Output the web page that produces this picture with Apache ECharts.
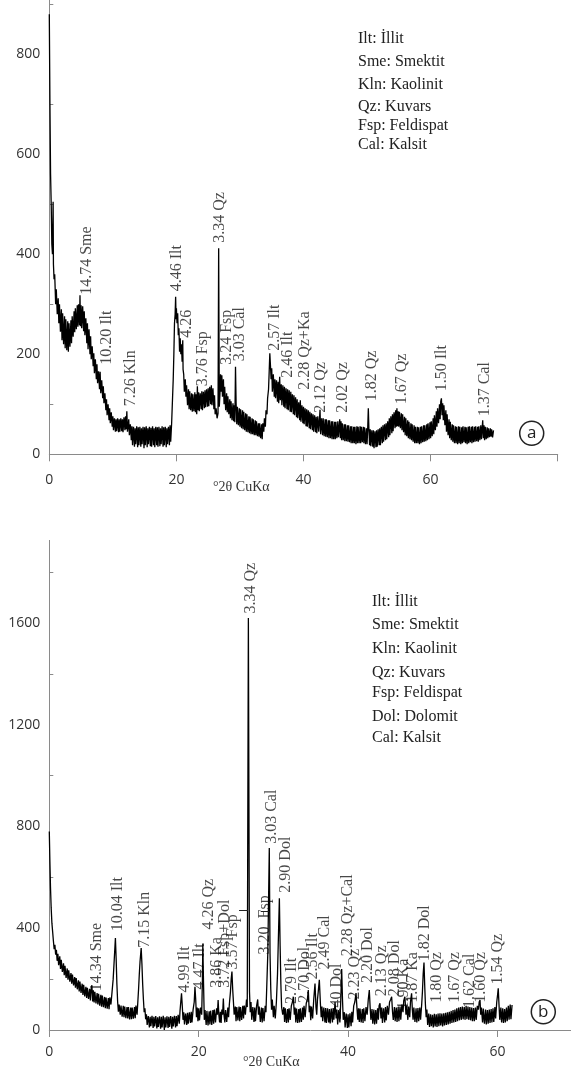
<!DOCTYPE html>
<html>
<head>
<meta charset="utf-8">
<title>XRD patterns</title>
<script src="https://cdn.jsdelivr.net/npm/echarts@6/dist/echarts.min.js"></script>
<style>
html, body { margin: 0; padding: 0; background: #fff; }
#main { width: 571px; height: 1072px; }
</style>
</head>
<body>
<div id="main"></div>
<script>
// pattern (a): [2theta, counts]
const patternA = [
[0,880],[0.1,700],[0.2,560],[0.3,500],[0.4,420],[0.5,400],[0.6,505],[0.65,380],[0.75,350],[0.85,360],[1,300],[1.1,330],[1.25,280],[1.4,312],[1.5,262],[1.6,300],[1.75,245],[1.9,290],
[2,228],[2.1,282],[2.25,220],[2.4,276],[2.5,212],[2.6,270],[2.75,208],[2.9,266],[3,205],[3.1,262],[3.25,215],[3.4,268],[3.5,222],[3.6,276],[3.75,235],[3.9,286],
[4,244],[4.1,292],[4.25,250],[4.4,298],[4.5,255],[4.6,300],[4.75,258],[4.83,318],[4.9,256],[5,298],[5.1,252],[5.25,296],[5.4,246],[5.5,286],[5.6,238],[5.75,272],[5.9,222],
[6,262],[6.1,210],[6.25,250],[6.4,200],[6.5,236],[6.6,190],[6.75,216],[6.9,176],[7,202],[7.1,162],[7.25,190],[7.4,150],[7.5,180],[7.6,142],[7.75,166],[7.9,130],
[8,165],[8.1,122],[8.25,148],[8.4,112],[8.5,136],[8.6,102],[8.75,122],[8.9,88],[9,110],[9.1,78],[9.25,100],[9.4,68],[9.5,92],[9.6,62],[9.75,84],[9.9,55],
[10,76],[10.1,48],[10.25,72],[10.4,45],[10.5,70],[10.6,46],[10.75,72],[10.9,44],[11,70],[11.1,45],[11.25,72],[11.4,46],[11.5,70],[11.6,44],[11.75,74],[11.9,48],
[12,76],[12.1,50],[12.2,86],[12.3,45],[12.5,70],[12.6,38],[12.75,60],[12.9,28],[13,56],[13.1,18],[13.25,55],[13.4,15],[13.5,52],[13.6,20],[13.75,56],[13.9,14],
[14,54],[14.1,18],[14.25,55],[14.4,15],[14.5,52],[14.6,20],[14.75,55],[14.9,12],[15,54],[15.1,18],[15.25,56],[15.4,14],[15.5,52],[15.6,20],[15.75,55],[15.9,16],
[16,53],[16.1,15],[16.25,56],[16.4,18],[16.5,52],[16.6,14],[16.75,55],[16.9,18],[17,54],[17.1,15],[17.25,55],[17.4,16],[17.5,52],[17.6,20],[17.75,56],[17.9,15],
[18,54],[18.1,18],[18.25,55],[18.4,14],[18.5,52],[18.6,20],[18.75,55],[18.9,18],[19,58],[19.1,25],[19.25,62],[19.4,60],[19.5,150],[19.6,200],[19.7,262],[19.8,280],[19.88,315],[19.95,270],
[20,292],[20.1,262],[20.2,282],[20.3,238],[20.4,252],[20.5,205],[20.6,232],[20.7,200],[20.8,220],[20.9,185],[21,228],[21.05,170],[21.15,160],[21.25,125],[21.4,150],[21.5,115],[21.6,138],[21.75,98],[21.9,130],
[22,90],[22.1,126],[22.25,88],[22.4,122],[22.5,85],[22.6,120],[22.75,86],[22.9,124],[23,84],[23.1,120],[23.2,80],[23.3,136],[23.4,88],[23.5,124],[23.6,86],[23.75,122],[23.9,90],
[24,126],[24.1,88],[24.25,125],[24.4,92],[24.5,128],[24.6,94],[24.75,130],[24.9,95],[25,132],[25.1,96],[25.25,135],[25.4,100],[25.5,138],[25.6,98],[25.75,132],[25.9,90],
[26,118],[26.1,80],[26.25,92],[26.4,72],[26.55,82],[26.65,412],[26.75,95],[26.85,120],[26.95,160],[27.05,125],[27.15,158],[27.25,115],[27.4,150],[27.5,100],[27.6,135],[27.75,88],[27.9,122],
[28,84],[28.1,116],[28.25,80],[28.4,110],[28.5,72],[28.6,106],[28.75,68],[28.9,102],[29,66],[29.1,98],[29.2,64],[29.3,175],[29.4,100],[29.5,60],[29.6,95],[29.75,58],[29.9,92],
[30,55],[30.1,90],[30.25,52],[30.4,88],[30.5,50],[30.6,85],[30.75,48],[30.9,82],[31,45],[31.1,80],[31.25,44],[31.4,76],[31.5,42],[31.6,75],[31.75,40],[31.9,72],
[32,40],[32.1,70],[32.25,38],[32.4,68],[32.5,38],[32.6,66],[32.75,36],[32.9,62],[33,35],[33.1,62],[33.25,32],[33.4,60],[33.5,30],[33.6,62],[33.75,45],[33.85,72],
[34,55],[34.1,88],[34.25,80],[34.35,112],[34.5,130],[34.6,165],[34.7,202],[34.8,178],[34.9,150],[35,172],[35.1,125],[35.25,160],[35.4,115],[35.5,150],[35.6,112],[35.75,148],[35.9,105],
[36,145],[36.1,102],[36.25,155],[36.35,108],[36.5,140],[36.6,98],[36.75,138],[36.9,95],[37,135],[37.1,92],[37.25,132],[37.4,90],[37.5,130],[37.6,88],[37.75,128],[37.9,85],
[38,125],[38.1,84],[38.25,120],[38.4,80],[38.5,118],[38.6,78],[38.75,114],[38.9,74],[39,110],[39.1,72],[39.25,104],[39.4,68],[39.5,108],[39.6,65],[39.75,98],[39.9,62],
[40,95],[40.1,60],[40.25,92],[40.4,56],[40.5,90],[40.6,55],[40.75,88],[40.9,52],[41,85],[41.1,50],[41.25,82],[41.4,48],[41.5,80],[41.6,45],[41.75,78],[41.9,44],
[42,75],[42.1,42],[42.25,76],[42.4,45],[42.6,89],[42.7,40],[42.85,72],[43,38],[43.1,72],[43.25,36],[43.4,70],[43.5,35],[43.6,70],[43.75,34],[43.9,68],
[44,32],[44.1,68],[44.25,32],[44.4,66],[44.5,30],[44.6,66],[44.75,30],[44.9,65],[45,30],[45.1,65],[45.25,32],[45.4,66],[45.5,34],[45.7,70],[45.8,32],[45.9,66],
[46,28],[46.1,62],[46.25,28],[46.4,60],[46.5,26],[46.6,60],[46.75,26],[46.9,58],[47,25],[47.1,58],[47.25,24],[47.4,56],[47.5,22],[47.6,56],[47.75,22],[47.9,55],
[48,22],[48.1,55],[48.25,20],[48.4,56],[48.5,22],[48.6,55],[48.75,22],[48.9,56],[49,22],[49.1,55],[49.25,24],[49.4,55],[49.5,22],[49.6,54],[49.75,20],[49.9,52],
[50,20],[50.1,50],[50.2,92],[50.3,48],[50.4,18],[50.5,50],[50.6,16],[50.75,48],[50.9,15],[51,48],[51.1,12],[51.25,46],[51.4,14],[51.5,48],[51.6,15],[51.75,50],[51.9,18],
[52,52],[52.1,18],[52.25,55],[52.4,22],[52.5,58],[52.6,25],[52.75,60],[52.9,28],[53,62],[53.1,30],[53.25,66],[53.4,34],[53.5,72],[53.6,38],[53.75,76],[53.9,42],
[54,80],[54.1,46],[54.25,84],[54.4,52],[54.5,88],[54.6,55],[54.7,92],[54.8,56],[54.9,86],[55,55],[55.1,85],[55.25,52],[55.4,82],[55.5,48],[55.6,80],[55.75,44],[55.9,75],
[56,38],[56.1,72],[56.25,36],[56.4,68],[56.5,32],[56.6,65],[56.75,30],[56.9,62],[57,28],[57.1,60],[57.25,25],[57.4,58],[57.5,22],[57.6,55],[57.75,22],[57.9,55],
[58,22],[58.1,54],[58.25,20],[58.4,55],[58.5,22],[58.6,56],[58.75,24],[58.9,58],[59,25],[59.1,58],[59.25,26],[59.4,60],[59.5,28],[59.6,62],[59.75,30],[59.9,64],
[60,32],[60.1,66],[60.25,36],[60.4,72],[60.5,40],[60.6,78],[60.75,48],[60.9,86],[61,55],[61.1,92],[61.25,62],[61.4,100],[61.5,70],[61.6,106],[61.7,112],[61.8,78],[61.9,102],
[62,68],[62.1,98],[62.25,58],[62.4,88],[62.5,45],[62.6,80],[62.75,38],[62.9,70],[63,32],[63.1,65],[63.25,28],[63.4,60],[63.5,25],[63.6,58],[63.75,22],[63.9,56],
[64,22],[64.1,55],[64.25,20],[64.4,56],[64.5,22],[64.6,55],[64.75,20],[64.9,54],[65,22],[65.1,56],[65.25,24],[65.4,55],[65.5,22],[65.6,54],[65.75,20],[65.9,55],
[66,22],[66.1,56],[66.25,24],[66.4,55],[66.5,22],[66.6,56],[66.75,24],[66.9,55],[67,25],[67.1,56],[67.25,26],[67.4,55],[67.5,25],[67.6,56],[67.75,28],[67.9,58],
[68,30],[68.2,68],[68.3,32],[68.4,58],[68.5,28],[68.6,55],[68.75,30],[68.9,54],[69,32],[69.1,52],[69.25,34],[69.4,52],[69.5,35],[69.6,50],[69.75,34],[69.9,48]
];

// pattern (b): [2theta, counts]
const patternB = [
[0,780],[0.08,660],[0.16,560],[0.25,480],[0.35,420],[0.45,385],[0.55,350],[0.65,318],[0.75,335],[0.85,296],[0.95,315],[1.05,272],[1.15,300],[1.25,255],[1.4,290],[1.5,240],[1.6,276],[1.75,228],[1.9,262],
[2,215],[2.1,252],[2.25,205],[2.4,242],[2.5,198],[2.6,235],[2.75,190],[2.9,224],[3,182],[3.1,218],[3.25,175],[3.4,208],[3.5,166],[3.6,204],[3.75,160],[3.9,195],
[4,152],[4.1,190],[4.25,146],[4.4,182],[4.5,138],[4.6,178],[4.75,132],[4.9,170],[5,126],[5.1,166],[5.25,122],[5.4,162],[5.5,116],[5.6,160],[5.7,176],[5.8,112],[5.9,156],
[6,108],[6.1,150],[6.25,104],[6.4,145],[6.5,100],[6.6,142],[6.75,96],[6.9,138],[7,92],[7.1,135],[7.25,90],[7.4,130],[7.5,86],[7.6,128],[7.75,84],[7.9,126],
[8,82],[8.1,128],[8.25,100],[8.4,150],[8.55,200],[8.7,280],[8.85,362],[8.95,280],[9.05,180],[9.15,110],[9.25,72],[9.35,100],[9.5,60],[9.6,96],[9.75,52],[9.9,95],
[10,50],[10.1,92],[10.25,46],[10.4,90],[10.5,45],[10.6,90],[10.75,42],[10.9,88],[11,42],[11.1,88],[11.25,44],[11.4,90],[11.5,46],[11.6,96],[11.75,60],[11.85,110],[11.95,160],
[12.05,220],[12.15,270],[12.3,322],[12.4,260],[12.5,180],[12.6,120],[12.7,70],[12.8,85],[12.9,42],[13,62],[13.1,20],[13.25,55],[13.4,10],[13.5,52],[13.6,15],[13.75,56],[13.9,8],
[14,52],[14.1,14],[14.25,55],[14.4,6],[14.5,50],[14.6,12],[14.75,54],[14.9,5],[15,52],[15.1,10],[15.25,56],[15.4,0],[15.5,50],[15.6,10],[15.75,54],[15.9,8],
[16,52],[16.1,12],[16.25,55],[16.4,5],[16.5,52],[16.6,14],[16.75,56],[16.9,10],[17,55],[17.1,15],[17.25,60],[17.4,25],[17.5,75],[17.6,110],[17.7,144],[17.8,95],[17.9,40],
[18,70],[18.1,22],[18.25,65],[18.4,20],[18.5,68],[18.6,25],[18.75,70],[18.9,28],[19,72],[19.1,30],[19.25,80],[19.4,110],[19.5,170],[19.6,120],[19.7,50],[19.8,88],[19.9,35],
[20,85],[20.1,38],[20.25,88],[20.4,60],[20.5,200],[20.55,340],[20.65,180],[20.75,40],[20.85,78],[21,20],[21.1,75],[21.25,18],[21.4,74],[21.5,22],[21.6,76],[21.75,20],[21.9,78],
[22,25],[22.1,80],[22.25,30],[22.4,85],[22.5,60],[22.6,118],[22.7,60],[22.8,30],[22.9,72],[23,28],[23.1,80],[23.2,60],[23.3,124],[23.4,55],[23.5,30],[23.6,78],[23.75,32],[23.9,88],
[24,50],[24.1,100],[24.25,150],[24.35,200],[24.45,230],[24.55,160],[24.65,110],[24.75,60],[24.9,92],[25,35],[25.1,90],[25.25,38],[25.4,92],[25.5,35],[25.6,90],[25.75,40],[25.9,95],
[26,45],[26.1,96],[26.25,60],[26.4,120],[26.5,90],[26.65,1620],[26.8,150],[26.9,70],[27,110],[27.1,40],[27.25,90],[27.4,32],[27.5,88],[27.6,35],[27.75,95],[27.9,120],
[28,60],[28.1,92],[28.25,32],[28.4,88],[28.5,30],[28.6,86],[28.75,35],[28.9,95],[29,70],[29.1,160],[29.25,300],[29.45,715],[29.55,300],[29.65,160],[29.75,80],[29.85,120],
[30,50],[30.1,95],[30.25,45],[30.4,110],[30.55,220],[30.7,400],[30.8,518],[30.9,330],[31,180],[31.1,90],[31.25,60],[31.4,90],[31.5,32],[31.6,85],[31.75,28],[31.9,82],
[32,30],[32.1,85],[32.25,40],[32.4,95],[32.55,110],[32.67,131],[32.8,60],[32.9,88],[33,30],[33.1,84],[33.25,28],[33.4,82],[33.5,30],[33.6,85],[33.75,32],[33.9,88],
[34,40],[34.1,95],[34.25,50],[34.4,105],[34.55,120],[34.67,157],[34.8,70],[34.9,95],[35,38],[35.1,92],[35.25,45],[35.4,120],[35.57,183],[35.7,90],[35.8,60],[35.9,120],
[36,150],[36.15,197],[36.3,100],[36.4,50],[36.5,92],[36.6,35],[36.75,88],[36.9,30],[37,86],[37.1,28],[37.25,85],[37.4,30],[37.5,82],[37.6,26],[37.75,84],[37.9,30],
[38,86],[38.1,40],[38.25,110],[38.4,45],[38.5,80],[38.6,22],[38.75,78],[38.9,30],[39,100],[39.14,240],[39.25,120],[39.35,40],[39.5,70],[39.6,10],[39.75,65],[39.9,8],
[40,62],[40.1,10],[40.25,66],[40.4,15],[40.5,72],[40.6,30],[40.75,95],[40.9,110],[41.06,145],[41.2,80],[41.3,40],[41.4,85],[41.5,32],[41.6,84],[41.75,30],[41.9,82],
[42,28],[42.1,85],[42.25,35],[42.4,90],[42.55,60],[42.7,120],[42.84,157],[42.95,90],[43.05,40],[43.2,82],[43.3,25],[43.45,80],[43.55,22],[43.7,78],[43.8,25],[43.95,85],
[44.05,40],[44.15,95],[44.27,105],[44.4,45],[44.5,88],[44.6,28],[44.75,85],[44.9,30],[45,90],[45.1,38],[45.25,95],[45.4,60],[45.55,110],[45.7,120],[45.83,131],[45.95,70],
[46.05,40],[46.2,90],[46.3,35],[46.45,88],[46.55,32],[46.7,90],[46.8,35],[46.95,92],[47.05,40],[47.2,100],[47.35,70],[47.45,115],[47.6,131],[47.75,60],[47.85,95],
[48,40],[48.1,92],[48.25,50],[48.35,110],[48.5,144],[48.6,80],[48.7,40],[48.8,88],[48.95,32],[49.1,85],[49.2,30],[49.35,86],[49.45,35],[49.6,88],[49.7,40],[49.85,100],[49.95,150],
[50.05,220],[50.16,265],[50.25,180],[50.35,100],[50.45,50],[50.55,80],[50.65,20],[50.8,65],[50.9,12],[51.05,62],[51.15,15],[51.3,60],[51.4,10],[51.55,64],[51.65,14],[51.8,62],[51.9,12],
[52.05,65],[52.15,15],[52.3,66],[52.4,18],[52.55,65],[52.65,14],[52.8,66],[52.9,18],[53.05,68],[53.15,20],[53.3,70],[53.4,22],[53.55,72],[53.65,25],[53.8,75],[53.9,28],
[54.05,78],[54.15,30],[54.3,80],[54.4,32],[54.55,85],[54.65,35],[54.8,88],[54.9,38],[55.05,90],[55.15,40],[55.3,92],[55.4,42],[55.55,90],[55.65,40],[55.8,95],[55.9,42],
[56.05,92],[56.15,40],[56.3,90],[56.4,38],[56.55,88],[56.65,35],[56.8,86],[56.9,35],[57.05,88],[57.15,40],[57.3,95],[57.45,80],[57.55,110],[57.66,118],[57.75,60],[57.85,88],
[58,30],[58.1,84],[58.25,25],[58.4,80],[58.5,22],[58.65,78],[58.75,25],[58.9,80],[59,28],[59.15,82],[59.25,30],[59.4,85],[59.5,32],[59.65,90],[59.75,45],[59.9,110],
[60.02,140],[60.1,164],[60.2,100],[60.3,40],[60.45,88],[60.55,30],[60.7,85],[60.8,28],[60.95,82],[61.05,30],[61.2,88],[61.3,35],[61.45,95],[61.55,40],[61.7,100],[61.8,42],[61.95,98]
];

// peak annotations: [2theta, counts where the text starts, text]
const peaksA = [
[5.9,318,'14.74 Sme'],[9.0,178,'10.20 Ilt'],[12.8,95,'7.26 Kln'],[20.05,325,'4.46 Ilt'],[21.6,232,'4.26'],
[24.1,135,'3.76 Fsp'],[26.85,422,'3.34 Qz'],[27.9,178,'3.24 Fsp'],[29.9,185,'3.03 Cal'],[35.5,206,'2.57 Ilt'],
[37.6,152,'2.46 Ilt'],[40.2,128,'2.28 Qz+Ka'],[42.8,82,'2.12 Qz'],[46.2,82,'2.02 Qz'],[50.7,105,'1.82 Qz'],
[55.4,99,'1.67 Qz'],[61.7,125,'1.50 Ilt'],[68.6,75,'1.37 Cal']
];
const peaksB = [
[6.3,150,'14.34 Sme'],[9.2,386,'10.04 Ilt'],[12.8,321,'7.15 Kln'],[18.2,145,'4.99 Ilt'],[20.2,157,'4.47 Ilt'],
[21.3,393,'4.26 Qz'],[22.4,164,'3.86 Ka'],[23.5,164,'3.72 Fsp+Dol'],[24.6,236,'3.57 Fsp'],[27.0,1635,'3.34 Qz'],
[28.9,295,'3.20  Fsp'],[29.8,730,'3.03 Cal'],[31.6,538,'2.90 Dol'],[32.5,100,'2.79 Ilt'],[34.2,105,'2.70 Dol'],
[35.3,197,'2.56 Ilt'],[36.9,236,'2.49 Cal'],[38.5,39,'2.40 Dol'],[40.0,288,'2.28 Qz+Cal'],[40.9,118,'2.23 Qz'],
[42.7,183,'2.20 Dol'],[44.5,131,'2.13 Qz'],[46.3,131,'2.08 Dol'],[47.4,79,'1.90 Ka'],[48.7,105,'1.87 Ka'],
[50.3,268,'1.82 Dol'],[51.9,105,'1.80 Qz'],[54.3,105,'1.67 Qz'],[56.3,85,'1.62 Cal'],[57.7,105,'1.60 Qz'],
[60.1,177,'1.54 Qz']
];
// short leaders from the two Fsp labels in (b) to the neighbouring peaks
const leadersB = [
[[25.4, 470], [26.6, 470]],
[[28.3, 465], [29.4, 465]]
];

const legendA = ['Ilt: İllit', 'Sme: Smektit', 'Kln: Kaolinit', 'Qz: Kuvars', 'Fsp: Feldispat', 'Cal: Kalsit'];
const legendB = ['Ilt: İllit', 'Sme: Smektit', 'Kln: Kaolinit', 'Qz: Kuvars', 'Fsp: Feldispat', 'Dol: Dolomit', 'Cal: Kalsit'];
const axisName = '°2θ CuKα';

const serif = '"Liberation Serif", "Times New Roman", serif';
const sans = '"Open Sans", "DejaVu Sans", sans-serif';
const grey = '#8a8a8a';

function xAxisFor(idx, max, margin) {
    return {
        gridIndex: idx, type: 'value', min: 0, max: max, interval: 20,
        axisLine: { show: true, lineStyle: { color: grey, width: 1 } },
        axisTick: { show: true, length: 7, lineStyle: { color: grey } },
        axisLabel: {
            margin: margin, fontSize: 14, fontFamily: sans, color: '#333',
            formatter: v => (v % 20 === 0 && v < 70) ? String(v) : ''
        },
        splitLine: { show: false }
    };
}
function yAxisFor(idx, max, step, lastLabel) {
    return {
        gridIndex: idx, type: 'value', min: 0, max: max, interval: step,
        axisLine: { show: true, lineStyle: { color: grey, width: 1 } },
        axisTick: { show: false, inside: true },
        minorTick: { show: true, splitNumber: 2, length: 4, lineStyle: { color: grey } },
        axisLabel: {
            margin: 9, fontSize: 14, fontFamily: sans, color: '#333',
            formatter: v => v <= lastLabel ? String(v) : ''
        },
        splitLine: { show: false },
        minorSplitLine: { show: false }
    };
}
function traceSeries(idx, data) {
    return {
        type: 'line', xAxisIndex: idx, yAxisIndex: idx, data: data,
        symbol: 'none', showSymbol: false, silent: true,
        lineStyle: { color: '#000', width: 1.3 }
    };
}
function peakSeries(idx, peaks, leaders) {
    const s = {
        type: 'scatter', xAxisIndex: idx, yAxisIndex: idx, data: peaks,
        symbolSize: 1, itemStyle: { color: 'rgba(0,0,0,0)' }, silent: true,
        label: {
            show: true, position: 'top', distance: 0, rotate: 90,
            align: 'left', verticalAlign: 'middle',
            fontFamily: serif, fontSize: 16, color: '#1a1a1a',
            formatter: p => p.data[2]
        }
    };
    if (leaders) {
        s.markLine = {
            silent: true, symbol: 'none', animation: false,
            label: { show: false },
            lineStyle: { color: '#222', width: 1, type: 'solid' },
            data: leaders.map(l => [{ coord: l[0] }, { coord: l[1] }])
        };
    }
    return s;
}

const graphics = [];
legendA.forEach((t, i) => {
    const ys = [39, 62, 85, 106.5, 126, 144.5];
    graphics.push({ type: 'text', x: 358, y: ys[i], silent: true,
        style: { text: t, fontFamily: serif, fontSize: 16, fill: '#222', verticalAlign: 'middle' } });
});
legendB.forEach((t, i) => {
    const ys = [602, 625, 648.5, 672.5, 693, 717, 738];
    graphics.push({ type: 'text', x: 372, y: ys[i], silent: true,
        style: { text: t, fontFamily: serif, fontSize: 16, fill: '#222', verticalAlign: 'middle' } });
});
graphics.push({ type: 'text', x: 213, y: 487, silent: true,
    style: { text: axisName, fontFamily: serif, fontSize: 14, fill: '#333', verticalAlign: 'middle' } });
graphics.push({ type: 'text', x: 243, y: 1062, silent: true,
    style: { text: axisName, fontFamily: serif, fontSize: 14, fill: '#333', verticalAlign: 'middle' } });
// the y axis of (b) starts a little below the 2000 level
graphics.push({ type: 'rect', silent: true, z: 100, shape: { x: 44, y: 510, width: 12, height: 30 },
    style: { fill: '#fff' } });
[[531.7, 433.3, 'a'], [543.3, 1011.7, 'b']].forEach(c => {
    graphics.push({ type: 'circle', silent: true, shape: { cx: c[0], cy: c[1], r: 12 },
        style: { fill: 'none', stroke: '#222', lineWidth: 1.5 } });
    graphics.push({ type: 'text', x: c[0], y: c[1], silent: true,
        style: { text: c[2], fontFamily: sans, fontSize: 17, fill: '#222', align: 'center', verticalAlign: 'middle' } });
});

const chart = echarts.init(document.getElementById('main'), null, { renderer: 'canvas' });
chart.setOption({
    animation: false,
    backgroundColor: '#fff',
    grid: [
        { left: 49.3, top: -45.7, width: 508.4, height: 500, outerBoundsMode: 'none' },
        { left: 49.3, top: 521.25, width: 522.9, height: 508.75, outerBoundsMode: 'none' }
    ],
    xAxis: [xAxisFor(0, 80, 19), xAxisFor(1, 70, 15)],
    yAxis: [yAxisFor(0, 1000, 200, 800), yAxisFor(1, 2000, 400, 1600)],
    series: [
        traceSeries(0, patternA),
        peakSeries(0, peaksA),
        traceSeries(1, patternB),
        peakSeries(1, peaksB, leadersB)
    ],
    graphic: graphics
});
</script>
</body>
</html>
